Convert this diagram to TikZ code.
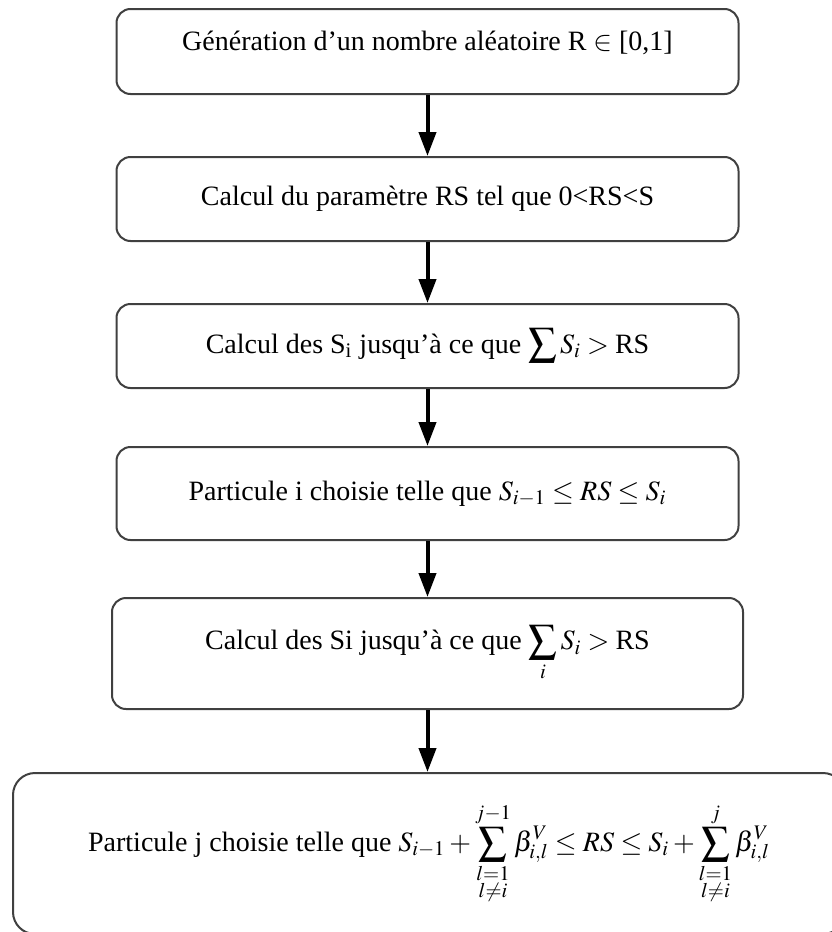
\documentclass[tikz,border=0pt]{standalone}
\usepackage{amsmath}
\usepackage{mathptmx}
\usepackage{fontspec}
\setmainfont{Liberation Serif}
\usetikzlibrary{arrows.meta}

\begin{document}
\begin{tikzpicture}[x=0.5pt, y=-0.5pt, >={Triangle[length=12pt, width=8.5pt]},
    etape/.style={draw=black!75, line width=1pt, rounded corners=7pt,
        minimum width=311pt, align=center, font=\fontsize{14}{17}\selectfont},
    fleche/.style={->, line width=2pt}]

    % 1. Cadre de la figure (831 x 932)
    \useasboundingbox (0, 0) rectangle (831, 932);

    % 2. Les étapes de la sélection
    \node[etape, minimum height=42.5pt, text depth=11pt] (gen) at (427.5, 51.5)
        {Génération d’un nombre aléatoire R $\in$ [0,1]};
    \node[etape, minimum height=42pt] (rs) at (427.5, 199)
        {Calcul du paramètre RS tel que 0<RS<S};
    \node[etape, minimum height=42pt] (somme) at (427.5, 346)
        {Calcul des S\textsubscript{i} jusqu’à ce que $\displaystyle\sum\nolimits S_i > \text{RS}$};
    \node[etape, minimum height=46.5pt] (parti) at (427.5, 493.5)
        {Particule i choisie telle que $S_{i-1} \le RS \le S_i$};
    \node[etape, minimum height=55.5pt, minimum width=315.5pt] (sommei) at (427.5, 653.5)
        {Calcul des Si jusqu’à ce que $\displaystyle\sum_i S_i > \text{RS}$};

    % 3. Dernière étape, plus large que la figure
    \node[etape, minimum height=80.5pt, minimum width=416pt, rounded corners=11pt] (partj) at (429, 853.5)
        {Particule j choisie telle que
        $\displaystyle S_{i-1} + \sum_{\substack{l=1\\ l\neq i}}^{j-1} \beta_{i,l}^{V} \le RS \le S_i + \sum_{\substack{l=1\\ l\neq i}}^{j} \beta_{i,l}^{V}$};

    % 4. Les flèches
    \draw[fleche] (gen) -- (rs);
    \draw[fleche] (rs) -- (somme);
    \draw[fleche] (somme) -- (parti);
    \draw[fleche] (parti) -- (sommei);
    \draw[fleche] (sommei.south) -- (sommei.south |- partj.north);

\end{tikzpicture}
\end{document}
